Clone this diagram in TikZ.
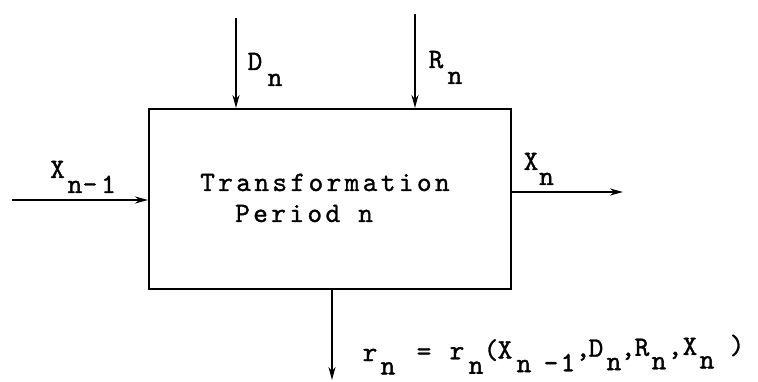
\documentclass[tikz,border=0pt]{standalone}
\usepackage{fontspec}
\usetikzlibrary{arrows.meta}
\newfontfamily\twfam{lmmono10-regular}[Extension=.otf, FakeBold=1.1]
\newfontfamily\twfamsp{lmmono10-regular}[Extension=.otf, FakeBold=1.1, LetterSpace=12]
\newcommand\twfont{\twfam\fontsize{28}{30}\selectfont}
\newcommand\twfontsp{\twfamsp\fontsize{28}{30}\selectfont}
\tikzset{
  lbl/.style={inner sep=0pt, anchor=base, font=\twfont},
  boxtxt/.style={inner sep=0pt, anchor=base west, font=\twfontsp},
  arr/.style={-{Stealth[length=13pt,width=7pt]}, line width=1.8pt},
  blockbox/.style={draw, line width=2.2pt, inner sep=0pt, anchor=north west,
    minimum width=362pt, minimum height=180pt}
}
\begin{document}
\begin{tikzpicture}[x=1pt,y=-1pt]
\useasboundingbox (0,0) rectangle (758,382);
\node[blockbox] (box) at (148,108) {};
\node[boxtxt] (t1) at (200,191) {Transformation};
\node[boxtxt] (t2) at (235,222) {Period n};
% connectors
\coordinate (dtop) at (236,18);
\coordinate (rtop) at (415,14);
\coordinate (xin) at (12,200);
\coordinate (xout) at (623,192);
\coordinate (rend) at (332,380);
\draw[arr] (dtop) -- (dtop |- box.north);
\draw[arr] (rtop) -- (rtop |- box.north);
\draw[arr] (xin) -- (xin -| box.west);
\draw[arr] (xout -| box.east) -- (xout);
\draw[arr] (rend |- box.south) -- (rend);
% labels
\foreach \n/\x/\y/\t in {
  a1/57.5/178/X, a2/75/193/n, a3/90/193/-, a4/108.5/193/1,
  b1/531/170/X, b2/546.5/185/n,
  c1/255/70/D, c2/275/86/n,
  d1/436/68/R, d2/455/84/n,
  f1/370/361/r, f2/388/374.4/n, f3/424/360/=, f4/457/359.3/r, f5/476/373.8/n,
  f6/491/358.7/(, f7/505/358.4/X, f8/524/372.1/n, f9/551/371.7/-, f10/568/371.3/1,
  f11/583/356.9/{,}, f12/596/356.7/D, f13/614/370.1/n, f14/628/356.1/{,},
  f15/642/355.8/R, f16/659/369.3/n, f17/675/355.2/{,}, f18/690/354.9/X,
  f19/707/368.4/n, f20/737/354/)}
  \node[lbl] (\n) at (\x,\y) {\t};
\end{tikzpicture}
\end{document}
